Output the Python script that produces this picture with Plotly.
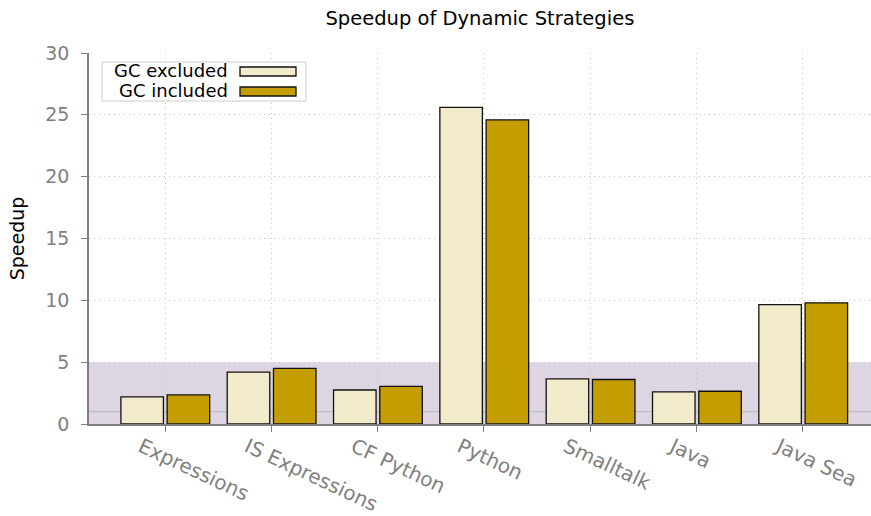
import plotly.graph_objects as go

categories = ["Expressions", "IS Expressions", "CF Python", "Python", "Smalltalk", "Java", "Java Sea"]
gc_excluded = [2.2, 4.2, 2.75, 25.6, 3.65, 2.6, 9.65]
gc_included = [2.35, 4.5, 3.05, 24.6, 3.6, 2.65, 9.8]
series_names = ["GC excluded", "GC included"]
series_colors = ["#F1EACB", "#C49E00"]

FONT = "DejaVu Sans"
GRAY = "#808080"
GRID = "#C4C4C4"

fig = go.Figure()
for name, vals, col, off in zip(series_names, [gc_excluded, gc_included], series_colors, [-0.415, 0.02]):
    fig.add_trace(go.Bar(
        x=categories, y=vals, name=name,
        marker=dict(color=col, line=dict(color="#111111", width=1.3)),
        width=0.40, offset=off, showlegend=False,
    ))

# shaded region and reference line
fig.add_shape(type="rect", xref="paper", yref="y", x0=0, x1=1, y0=0, y1=5,
              fillcolor="#DDD6E2", line=dict(width=0), layer="below")
fig.add_shape(type="line", xref="paper", yref="y", x0=0, x1=1, y0=1, y1=1,
              line=dict(color="#BBB5BB", width=1), layer="below")

# custom legend (text left, swatch right)
fig.add_shape(type="rect", xref="paper", yref="paper", x0=0.0166, x1=0.2775, y0=0.8706, y1=0.9757,
              fillcolor="white", line=dict(color="#CCCCCC", width=1), layer="above")
sw_y = [(0.938, 0.9623), (0.8841, 0.9084)]
txt_y = [0.9515, 0.8976]
for name, col, (y0, y1), ty in zip(series_names, series_colors, sw_y, txt_y):
    fig.add_shape(type="rect", xref="paper", yref="paper", x0=0.1931, x1=0.2647, y0=y0, y1=y1,
                  fillcolor=col, line=dict(color="#111111", width=1.3), layer="above")
    fig.add_annotation(text=name, xref="paper", yref="paper", x=0.1805, y=ty,
                       xanchor="right", yanchor="middle", showarrow=False,
                       font=dict(family=FONT, size=18, color="black"))

fig.update_layout(
    width=871, height=516,
    margin=dict(l=89, r=0, t=53, b=92, autoexpand=False),
    plot_bgcolor="white", paper_bgcolor="white",
    barmode="overlay",
    title=dict(text="Speedup of Dynamic Strategies", x=0.551, xanchor="center",
               xref="container", yref="container", y=0.965, yanchor="middle",
               font=dict(family=FONT, size=19.5, color="black")),
    font=dict(family=FONT),
)
fig.update_xaxes(
    range=[-0.715, 6.64], tickangle=25, automargin=False,
    tickfont=dict(family=FONT, size=20, color=GRAY),
    ticklabelshift=-24, ticklabelstandoff=-4,
    showline=True, linecolor=GRAY, linewidth=1.5,
    ticks="outside", ticklen=6, tickcolor=GRAY,
    showgrid=True, gridcolor=GRID, griddash="1px,4px", gridwidth=1,
)
fig.update_yaxes(
    range=[0, 30], tickvals=[0, 5, 10, 15, 20, 25, 30], automargin=False,
    tickfont=dict(family=FONT, size=19, color=GRAY),
    ticklabelstandoff=8,
    showline=True, linecolor=GRAY, linewidth=1.5,
    ticks="outside", ticklen=6, tickcolor=GRAY,
    showgrid=True, gridcolor=GRID, griddash="1px,4px", gridwidth=1,
    zeroline=False,
    title=dict(text="Speedup", font=dict(family=FONT, size=19, color="black"), standoff=16),
)

fig.write_html("out.html", config={"displayModeBar": False},
               post_script="document.body.style.margin='0';document.body.style.overflow='hidden';")
